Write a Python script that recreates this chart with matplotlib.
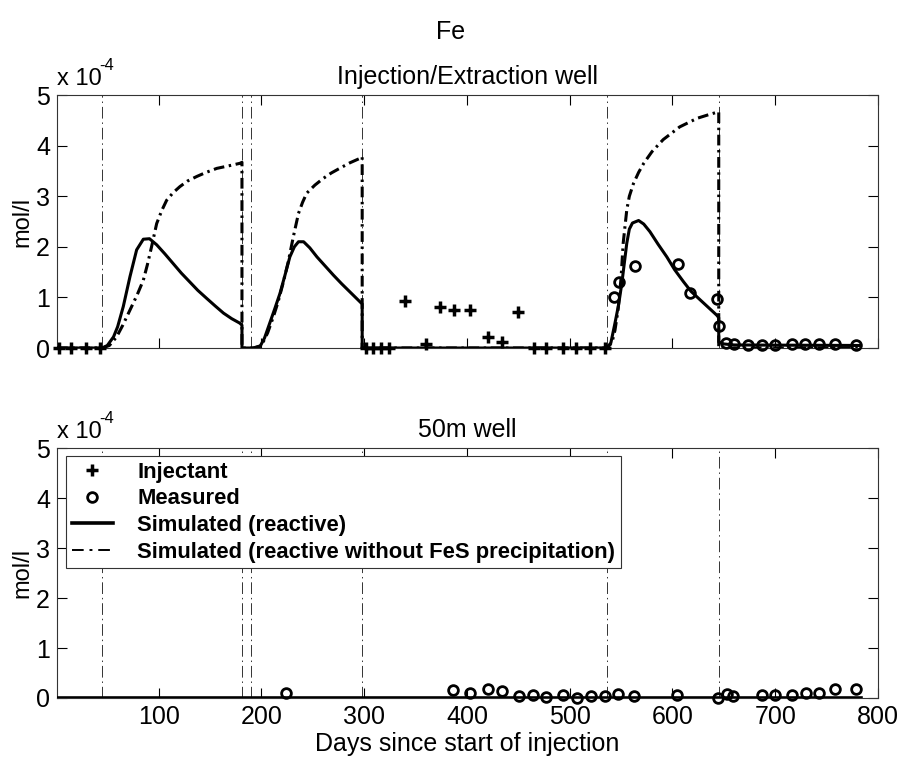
import numpy as np
import matplotlib
matplotlib.use("Agg")
import matplotlib.pyplot as plt

plt.rcParams['font.family'] = ['Liberation Sans', 'DejaVu Sans']

# event days (start / stop of injection & extraction phases)
event_days = [45, 181, 190, 298, 536, 645]

# injection/extraction well, simulated (reactive), units of 1e-4 mol/l
sim_days = [1, 45, 50, 56, 60, 65.5, 72, 78.5, 85, 91, 98, 106, 114, 122, 130, 138, 146.7, 155,
            163, 171, 179, 181, 181, 192, 198.6, 203, 208, 213, 218, 223, 227.6, 232, 236, 241,
            247, 254, 262, 270, 278, 286, 292, 298, 298, 536, 540, 544, 547.5, 550.7, 555.5, 558,
            561, 567, 572, 578, 586, 594.5, 602, 610.7, 618, 627, 635, 643, 645, 645, 650, 660, 783]
sim_reactive = [0, 0, 0.05, 0.22, 0.42, 0.82, 1.41, 1.94, 2.15, 2.16, 2.04, 1.86, 1.67, 1.48, 1.31,
                1.14, 0.98, 0.83, 0.69, 0.58, 0.49, 0.45, 0, 0, 0.03, 0.2, 0.49, 0.78, 1.08, 1.45,
                1.8, 2.0, 2.1, 2.1, 1.98, 1.8, 1.62, 1.44, 1.27, 1.11, 0.99, 0.87, 0, 0, 0.1, 0.49,
                0.85, 1.28, 2.07, 2.35, 2.47, 2.52, 2.45, 2.3, 2.05, 1.8, 1.55, 1.31, 1.12, 0.95,
                0.8, 0.65, 0.6, 0.12, 0.08, 0.06, 0.05]

# injection/extraction well, simulated without FeS precipitation
nofes_days = [1, 45, 52, 59, 65, 72, 79, 85, 89, 93, 98, 103, 107.7, 114, 120.6, 128, 137, 146,
              156.5, 168, 179, 181, 181, 192, 200, 206, 211.6, 216, 221, 226, 231, 236, 240, 244,
              252, 260, 268, 276, 286, 296, 298, 298, 536, 541, 544, 547, 550, 552, 555.5, 558,
              562, 567, 572, 580, 591, 607, 624, 635, 645, 645, 783]
sim_nofes = [0, 0, 0.05, 0.22, 0.45, 0.75, 1.05, 1.34, 1.65, 2.0, 2.46, 2.72, 2.92, 3.07, 3.19,
             3.3, 3.39, 3.47, 3.55, 3.6, 3.65, 3.67, 0, 0, 0.05, 0.3, 0.62, 0.9, 1.28, 1.7, 2.2,
             2.66, 2.88, 3.06, 3.22, 3.35, 3.46, 3.55, 3.66, 3.75, 3.78, 0, 0, 0.1, 0.35, 0.75,
             1.4, 2.07, 2.73, 3.0, 3.25, 3.47, 3.65, 3.88, 4.12, 4.37, 4.54, 4.61, 4.67, 0, 0]

# injectant samples
inj_days = [3, 15, 29, 43, 302, 309, 316, 324, 340, 360, 374, 387, 403, 420, 434, 450,
            465, 477, 493, 506, 520, 534]
inj_vals = [0, 0, 0, 0, 0, 0, 0, 0, 0.93, 0.08, 0.81, 0.75, 0.75, 0.22, 0.12, 0.72,
            0, 0, 0, 0, 0, 0]

# measured, injection/extraction well
meas_days_top = [542.6, 547.5, 563.7, 605, 617.3, 643, 644.8, 652, 660, 673, 687, 700, 716,
                 729, 743, 758, 779]
meas_top = [1.01, 1.31, 1.62, 1.66, 1.09, 0.96, 0.43, 0.1, 0.08, 0.05, 0.05, 0.06, 0.08,
            0.07, 0.08, 0.08, 0.06]

# measured, 50m well
meas_days_bot = [224, 386, 403, 420, 434, 451, 464, 477, 493, 507, 521, 534, 547, 563, 604,
                 644, 653, 659, 687, 700, 716, 730, 743, 758, 779]
meas_bot = [0.1, 0.16, 0.1, 0.17, 0.13, 0.04, 0.05, 0.02, 0.05, 0.0, 0.03, 0.03, 0.08, 0.03,
            0.05, 0.0, 0.08, 0.03, 0.05, 0.06, 0.06, 0.1, 0.1, 0.17, 0.18]

# 50m well, simulated
sim_days_bot = [1, 783]
sim_bot = [0, 0]
nofes_bot = [0, 0]

vline_style = (0, (12, 4, 1.5, 4))
curve_dd = (0, (3.5, 1.5, 0.8, 1.5))

fig = plt.figure(figsize=(9.02, 7.62), dpi=100)
ax1 = fig.add_axes([0.0632, 0.5433, 0.9102, 0.332])
ax2 = fig.add_axes([0.0632, 0.084, 0.9102, 0.328])

fig.text(0.5, 0.958, 'Fe', ha='center', va='center', fontsize=18)

for ax in (ax1, ax2):
    for d in event_days:
        ax.axvline(d, color='#333333', lw=0.7, linestyle=vline_style, zorder=1)

# top panel
ax1.plot(inj_days, inj_vals, '+', color='k', ms=9, mew=2.5, clip_on=False, zorder=4)
ax1.plot(meas_days_top, meas_top, 'o', mfc='none', mec='k', ms=7, mew=2, clip_on=False, zorder=4)
ax1.plot(sim_days, sim_reactive, '-', color='k', lw=2.2, zorder=3)
ax1.plot(nofes_days, sim_nofes, color='k', lw=2.2, linestyle=curve_dd, zorder=3)
ax1.set_title('Injection/Extraction well', fontsize=18, pad=8)

# bottom panel
h1, = ax2.plot([], [], '+', color='k', ms=9, mew=2.5, label='Injectant')
h2, = ax2.plot(meas_days_bot, meas_bot, 'o', mfc='none', mec='k', ms=7, mew=2,
               clip_on=False, zorder=4, label='Measured')
h3, = ax2.plot(sim_days_bot, sim_bot, '-', color='k', lw=2.6, zorder=3,
               label='Simulated (reactive)')
h4, = ax2.plot(sim_days_bot, nofes_bot, color='k', lw=1.4, linestyle=(0, (6, 3, 1.5, 3)),
               zorder=2, label='Simulated (reactive without FeS precipitation)')
ax2.set_title('50m well', fontsize=18, pad=8)
ax2.set_xlabel('Days since start of injection', fontsize=18, labelpad=2)

leg = ax2.legend(handles=[h1, h2, h3, h4], loc='upper left', bbox_to_anchor=(0.011, 0.968),
                 borderaxespad=0, fancybox=False, framealpha=1, edgecolor='#333333',
                 prop={'weight': 'bold', 'size': 15.8}, handlelength=1.9, labelspacing=0.26,
                 borderpad=0.25, handletextpad=1.1)
leg.get_frame().set_linewidth(0.8)
leg.set_zorder(5)

for ax in (ax1, ax2):
    ax.set_xlim(1, 800)
    ax.set_ylim(0, 5)
    ax.set_xticks([100, 200, 300, 400, 500, 600, 700, 800])
    ax.set_yticks([0, 1, 2, 3, 4, 5])
    ax.tick_params(direction='in', length=7, width=0.8, top=True, right=True,
                   labelsize=18, pad=5)
    for s in ax.spines.values():
        s.set_linewidth(0.8)
        s.set_color('#333333')
    ax.set_ylabel('mol/l', fontsize=17, labelpad=2)
    # MATLAB-style exponent label above the axis
    ax.text(0.0, 1.04, 'x 10', transform=ax.transAxes, fontsize=17,
            ha='left', va='baseline')
    ax.text(0.052, 1.10, '-4', transform=ax.transAxes, fontsize=12,
            ha='left', va='baseline')

ax1.tick_params(labelbottom=False)

fig.savefig('out.png', dpi=100)
